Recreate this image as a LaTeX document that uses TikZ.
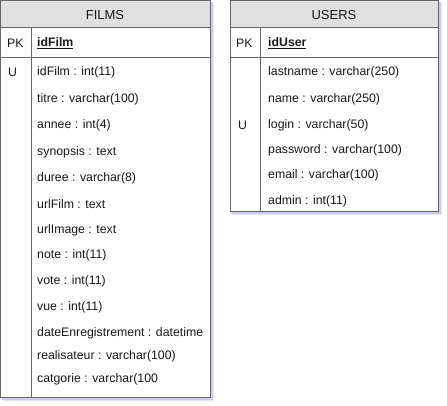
\documentclass[tikz,border=0pt]{standalone}
\usepackage{fontspec}
\setmainfont{Liberation Sans}
\begin{document}
\begin{tikzpicture}[x=1pt,y=-1pt,
  tbl/.style={draw=black!60,line width=0.9pt},
  hdr/.style={draw=black!60,line width=0.9pt,fill=black!12},
  ttl/.style={font=\fontsize{13}{14}\selectfont,text=black!90,inner sep=0pt},
  fld/.style={font=\fontsize{12.3}{13}\selectfont,text=black!90,anchor=west,inner sep=0pt},
  key/.style={font=\fontsize{12.3}{13}\selectfont,text=black!90,anchor=west,inner sep=0pt}]
\useasboundingbox (0,0) rectangle (447,405);
% ---------- FILMS ----------
\fill[black!20!blue!10] (3,3) rectangle (214,401);
\fill[black!40!blue!20] (2,2) rectangle (212.5,399.5);
\fill[white] (0.5,0.5) rectangle (210,397);
\draw[hdr] (0.5,0.5) rectangle (210,27);
\draw[tbl] (0.5,27) rectangle (210,57);
\draw[tbl] (0.5,57) rectangle (210,397);
\draw[tbl] (31,27) -- (31,397);
\node[ttl] (ft) at (105,15) {FILMS};
\node[key] (fpk) at (7,43) {PK};
\node[fld] (fid) at (37,43) {\bfseries\underline{idFilm}};
\node[key] (fu) at (8,72) {U};
\node[fld] (f1) at (37,72) {idFilm : int(11)};
\node[fld] (f2) at (37,99) {titre : varchar(100)};
\node[fld] (f3) at (37,125) {annee : int(4)};
\node[fld] (f4) at (37,152) {synopsis : text};
\node[fld] (f5) at (37,178) {duree : varchar(8)};
\node[fld] (f6) at (37,204) {urlFilm : text};
\node[fld] (f7) at (37,230) {urlImage : text};
\node[fld] (f8) at (37,255) {note : int(11)};
\node[fld] (f9) at (37,281) {vote : int(11)};
\node[fld] (f10) at (37,307) {vue : int(11)};
\node[fld] (f11) at (37,333) {dateEnregistrement : datetime};
\node[fld] (f12) at (37,356) {realisateur : varchar(100)};
\node[fld] (f13) at (37,379) {catgorie : varchar(100};
% ---------- USERS ----------
\fill[black!20!blue!10] (233,3) rectangle (442,215);
\fill[black!40!blue!20] (232,2) rectangle (440.5,213.5);
\fill[white] (230.5,0.5) rectangle (438,211);
\draw[hdr] (230.5,0.5) rectangle (438,27);
\draw[tbl] (230.5,27) rectangle (438,57);
\draw[tbl] (230.5,57) rectangle (438,211);
\draw[tbl] (260,27) -- (260,211);
\node[ttl] (ut) at (334,15) {USERS};
\node[key] (upk) at (236,43) {PK};
\node[fld] (uid) at (268,43) {\bfseries\underline{idUser}};
\node[key] (uu) at (238,125) {U};
\node[fld] (u1) at (268,72) {lastname : varchar(250)};
\node[fld] (u2) at (268,99) {name : varchar(250)};
\node[fld] (u3) at (268,125) {login : varchar(50)};
\node[fld] (u4) at (268,150) {password : varchar(100)};
\node[fld] (u5) at (268,175) {email : varchar(100)};
\node[fld] (u6) at (268,201) {admin : int(11)};
\end{tikzpicture}
\end{document}
